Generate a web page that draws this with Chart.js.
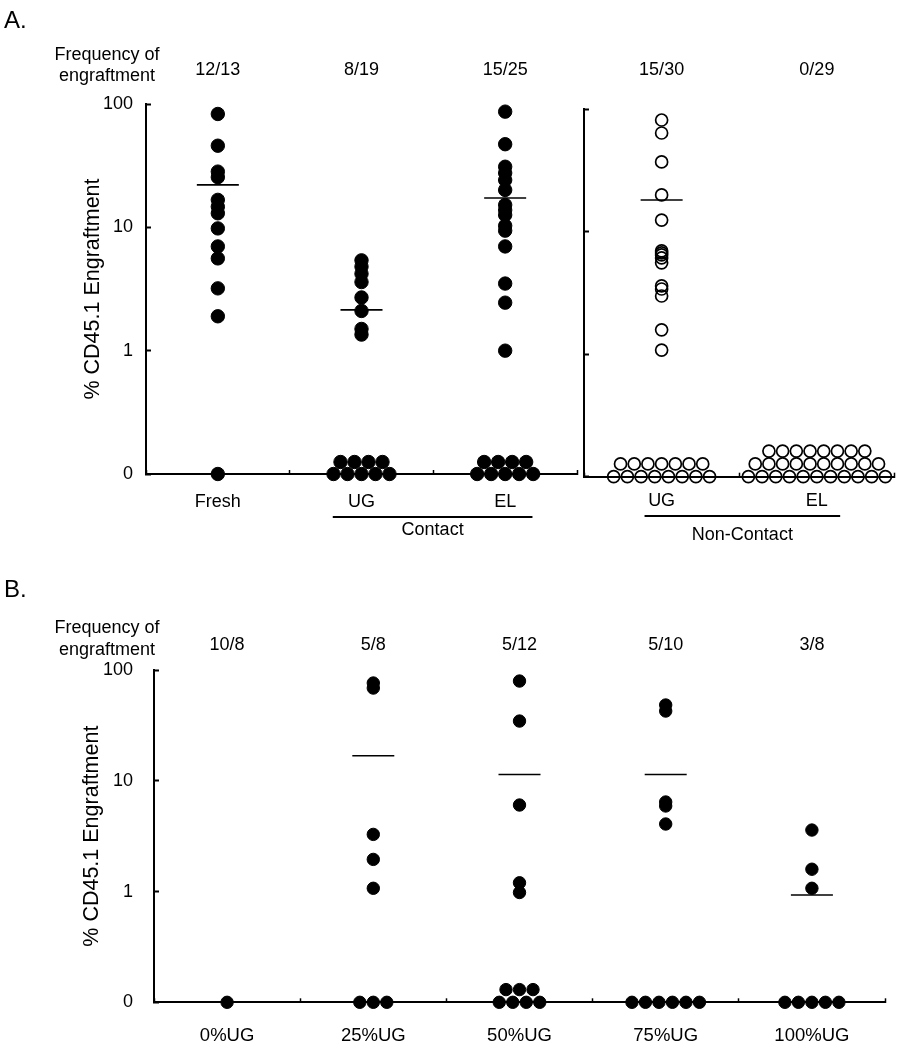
<!DOCTYPE html>
<html>
<head>
<meta charset="utf-8">
<title>CD45.1 engraftment</title>
<script src="https://cdn.jsdelivr.net/npm/chart.js@4.4.1/dist/chart.umd.min.js"></script>
<style>
  html, body { margin: 0; padding: 0; background: #fff; }
  #wrap { position: relative; width: 912px; height: 1050px; overflow: hidden; }
  canvas { position: absolute; left: 0; }
</style>
</head>
<body>
<div id="wrap">
  <canvas id="chartA1" width="912" height="560" style="top:0"></canvas>
  <canvas id="chartA2" width="912" height="560" style="top:0"></canvas>
  <canvas id="chartB" width="912" height="490" style="top:560px"></canvas>
</div>
<script>
// values, % CD45.1 engraftment per mouse (0 = not engrafted)

// A. contact co-culture
const catsA = ['Fresh', 'UG', 'EL'];
const freqA = ['12/13', '8/19', '15/25'];
const freshA = [83, 45.9, 28.3, 25.5, 16.7, 14.7, 13.0, 9.8, 7.0, 5.6, 3.2, 1.9, 0];
const contactUG = [5.4, 4.8, 4.2, 3.6, 2.7, 2.1, 1.5, 1.35, 0, 0, 0, 0, 0, 0, 0, 0, 0];
const contactEL = [86.7, 47.2, 31.0, 27.6, 24.2, 20.1, 15.2, 13.8, 12.6, 10.3, 9.4, 7.0, 3.5, 2.45, 1.0,
                   0, 0, 0, 0, 0, 0, 0, 0, 0];
const meansA = [22.1, 2.14, 17.3];

// A. non-contact
const catsNC = ['UG', 'EL'];
const freqNC = ['15/30', '0/29'];
const nonContactUG = [81.3, 63.7, 37.0, 19.9, 12.4, 6.95, 6.7, 6.45, 6.1, 5.56, 3.6, 3.4, 2.98, 1.58, 1.08,
                      0, 0, 0, 0, 0, 0, 0, 0, 0, 0, 0, 0, 0, 0, 0];
const nonContactEL = [0, 0, 0, 0, 0, 0, 0, 0, 0, 0, 0, 0, 0, 0, 0, 0, 0, 0, 0, 0, 0, 0, 0, 0, 0, 0, 0, 0, 0];
const meansNC = [18.1, null];

// B. UG fraction
const catsB = ['0%UG', '25%UG', '50%UG', '75%UG', '100%UG'];
const freqB = ['10/8', '5/8', '5/12', '5/10', '3/8'];
const ug0 = [0];
const ug25 = [76.3, 68.7, 3.28, 1.95, 1.07, 0, 0, 0];
const ug50 = [79.5, 34.6, 6.04, 1.2, 0.98, 0, 0, 0, 0, 0, 0, 0];
const ug75 = [48.3, 42.6, 6.43, 5.92, 4.07, 0, 0, 0, 0, 0, 0];
const ug100 = [3.59, 1.59, 1.07, 0, 0, 0, 0, 0];
const meansB = [null, 16.8, 11.4, 11.4, 0.93];

const yTicks = [0.1, 1, 10, 100];   // 0.1 is shown as "0"
const yTitle = '% CD45.1 Engraftment';
const rowHeader = ['Frequency of', 'engraftment'];

const FONT = '"Liberation Sans", Arial, Helvetica, sans-serif';
Chart.defaults.font.family = FONT;
Chart.defaults.color = '#000';

// texts and group underlines drawn on top of each chart
const extrasPlugin = {
    id: 'extras',
    afterDraw(chart, args, o) {
        const ctx = chart.ctx;
        const xs = chart.scales.x;
        ctx.save();
        ctx.fillStyle = '#000';
        ctx.strokeStyle = '#000';
        (o.texts || []).forEach(t => {
            ctx.font = (t.size || 18) + 'px ' + FONT;
            ctx.textAlign = t.align || 'center';
            ctx.textBaseline = t.baseline || 'middle';
            ctx.fillText(t.text, t.x, t.y);
        });
        (o.groups || []).forEach(g => {
            const x1 = xs.getPixelForValue(g.from);
            const x2 = xs.getPixelForValue(g.to);
            ctx.lineWidth = 2;
            ctx.beginPath();
            ctx.moveTo(x1, g.lineY);
            ctx.lineTo(x2, g.lineY);
            ctx.stroke();
            ctx.font = '18px ' + FONT;
            ctx.textAlign = 'center';
            ctx.textBaseline = 'middle';
            ctx.fillText(g.text, (x1 + x2) / 2, g.textY);
        });
        ctx.restore();
    }
};

function makeChart(id, opt) {
    const n = opt.cats.length;
    return new Chart(document.getElementById(id), {
        type: 'scatter',
        data: {
            datasets: [{
                data: [],
                pointRadius: opt.dotR,
                pointBackgroundColor: opt.open ? 'rgba(0,0,0,0)' : '#000',
                pointBorderColor: '#000',
                pointBorderWidth: opt.open ? 1.7 : 1,
                clip: false
            }, {
                data: [],
                pointStyle: 'line',
                pointRadius: 21,
                pointBorderWidth: 1.6,
                pointBorderColor: '#000',
                clip: false
            }]
        },
        options: {
            responsive: false,
            animation: false,
            devicePixelRatio: 1,
            events: [],
            layout: { autoPadding: false, padding: opt.padding },
            plugins: {
                legend: { display: false },
                tooltip: { enabled: false },
                extras: opt.extras
            },
            scales: {
                x: {
                    type: 'linear', position: 'bottom', min: -0.5, max: n - 0.5,
                    afterBuildTicks: s => {
                        const t = [];
                        for (let v = -0.5; v <= n - 0.5; v += 0.5) t.push({ value: v });
                        s.ticks = t;
                    },
                    afterFit: s => { s.height = opt.bottomH; },
                    border: { display: true, color: '#000', width: 2 },
                    grid: {
                        drawOnChartArea: false, drawTicks: true, tickLength: -4, tickWidth: 1.5,
                        tickColor: c => Number.isInteger(c.tick.value) ? 'rgba(0,0,0,0)' : '#000'
                    },
                    ticks: {
                        padding: opt.xPad, autoSkip: false, maxRotation: 0, color: '#000',
                        font: { size: opt.catSize || 18 },
                        callback: v => Number.isInteger(v) ? opt.cats[v] : ''
                    }
                },
                top: {
                    type: 'linear', position: 'top', min: -0.5, max: n - 0.5,
                    afterBuildTicks: s => { s.ticks = opt.cats.map((c, i) => ({ value: i })); },
                    afterFit: s => { s.height = opt.topH; },
                    border: { display: false },
                    grid: { display: false, drawTicks: false },
                    ticks: {
                        padding: opt.topPad, autoSkip: false, maxRotation: 0, color: '#000',
                        font: { size: 18 },
                        callback: v => opt.freq[v]
                    }
                },
                y: {
                    type: 'logarithmic', position: 'left', min: 0.1, max: 100,
                    afterBuildTicks: s => { s.ticks = yTicks.map(v => ({ value: v })); },
                    afterFit: s => { s.width = opt.leftW; },
                    border: { display: true, color: '#000', width: 2 },
                    grid: { drawOnChartArea: false, drawTicks: true, tickLength: -5, tickWidth: 2, tickColor: '#000' },
                    ticks: {
                        display: opt.yLabels, padding: opt.yPad, color: '#000',
                        font: { size: 18 },
                        callback: v => v === 0.1 ? '0' : String(v)
                    },
                    title: {
                        display: opt.yLabels, text: yTitle, color: '#000',
                        font: { size: 21.5 },
                        padding: { top: opt.titlePad, bottom: 0 }
                    }
                }
            }
        },
        plugins: [extrasPlugin]
    });
}

// beeswarm: engrafted values on the category centre, zeros stacked in rows on the floor
function placePoints(chart, groups, means, rowMax, gap, rowGap) {
    const xs = chart.scales.x, ys = chart.scales.y;
    const floor = ys.getPixelForValue(yTicks[0]);
    const pts = [];
    groups.forEach((vals, i) => {
        vals.forEach(v => { if (v > 0) pts.push({ x: i, y: v }); });
        let left = vals.filter(v => v === 0).length;
        let row = 0;
        const cx = xs.getPixelForValue(i);
        while (left > 0) {
            const cnt = Math.min(left, Math.max(1, rowMax[i] - row));
            for (let k = 0; k < cnt; k++) {
                pts.push({
                    x: xs.getValueForPixel(cx + (k - (cnt - 1) / 2) * gap),
                    y: ys.getValueForPixel(floor - row * rowGap)
                });
            }
            left -= cnt;
            row++;
        }
    });
    chart.data.datasets[0].data = pts;
    chart.data.datasets[1].data = means
        .map((m, i) => m == null ? null : { x: i, y: m })
        .filter(p => p);
    chart.update();
}

const chartA1 = makeChart('chartA1', {
    cats: catsA, freq: freqA, dotR: 6.7, open: false,
    padding: { left: 0, right: 335, top: 0, bottom: 0 },
    leftW: 146, topH: 104, bottomH: 86,
    xPad: 21, topPad: 23, yPad: 18, titlePad: 80, yLabels: true,
    extras: {
        texts: [
            { text: 'A.', x: 4, y: 28, size: 24, align: 'left', baseline: 'alphabetic' },
            { text: rowHeader[0], x: 107, y: 55 },
            { text: rowHeader[1], x: 107, y: 76 }
        ],
        groups: [{ text: 'Contact', from: 0.8, to: 2.19, lineY: 517, textY: 530 }]
    }
});
placePoints(chartA1, [freshA, contactUG, contactEL], meansA, [1, 5, 5], 14, 12);

const chartA2 = makeChart('chartA2', {
    cats: catsNC, freq: freqNC, dotR: 6, open: true,
    padding: { left: 580, right: 9, top: 0, bottom: 0 },
    leftW: 4, topH: 109, bottomH: 83.3,
    xPad: 17.5, topPad: 28, yPad: 0, titlePad: 0, yLabels: false,
    extras: {
        groups: [{ text: 'Non-Contact', from: -0.11, to: 1.15, lineY: 516, textY: 535 }]
    }
});
placePoints(chartA2, [nonContactUG, nonContactEL], meansNC, [8, 11], 13.7, 12.8);

const chartB = makeChart('chartB', {
    cats: catsB, freq: freqB, dotR: 6.2, open: false, catSize: 18.5,
    padding: { left: 0, right: 15, top: 0, bottom: 0 },
    leftW: 154, topH: 110, bottomH: 47.7,
    xPad: 27, topPad: 14, yPad: 26, titlePad: 79, yLabels: true,
    extras: {
        texts: [
            { text: 'B.', x: 4, y: 37, size: 24, align: 'left', baseline: 'alphabetic' },
            { text: rowHeader[0], x: 107, y: 68 },
            { text: rowHeader[1], x: 107, y: 90 }
        ]
    }
});
placePoints(chartB, [ug0, ug25, ug50, ug75, ug100], meansB, [1, 3, 4, 6, 5], 13.5, 12.7);
</script>
</body>
</html>
